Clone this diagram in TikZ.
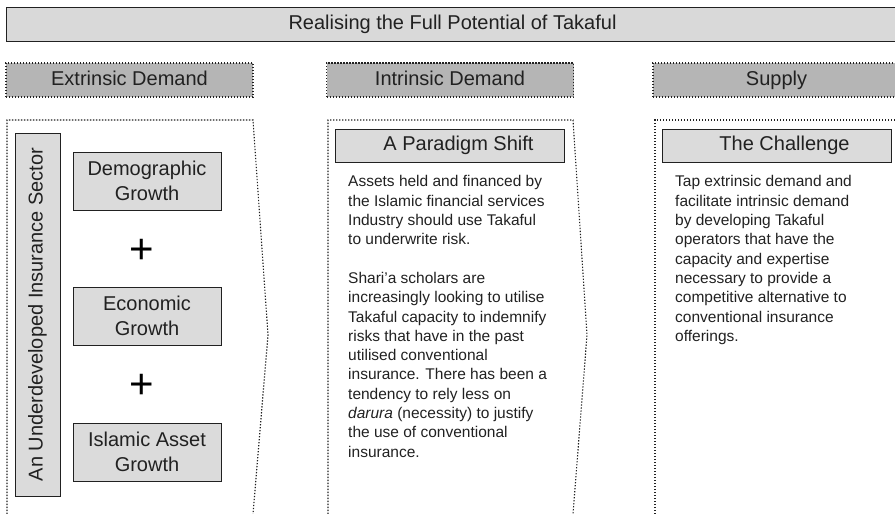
\documentclass[tikz,border=0pt]{standalone}
\usepackage{fontspec}
\setmainfont{Liberation Sans}
\usetikzlibrary{positioning}
\definecolor{barfill}{gray}{0.85}
\definecolor{headfill}{gray}{0.71}
\definecolor{boxfill}{gray}{0.86}
\definecolor{inkgray}{gray}{0.13}

\begin{document}
\begin{tikzpicture}[x=1pt, y=-1pt,
  bar/.style={draw=inkgray, line width=1pt, fill=barfill, minimum width=893pt,
              minimum height=34pt, inner sep=0pt, text=inkgray,
              text height=14.5pt, text depth=4pt,
              font=\fontsize{20}{24}\selectfont},
  head/.style={draw=inkgray, line width=1.1pt, dash pattern=on 1.3pt off 1.7pt,
               fill=headfill, minimum width=247pt, minimum height=34pt,
               inner sep=0pt, text=inkgray, text height=14.5pt, text depth=4pt,
               font=\fontsize{20}{24}\selectfont},
  panel/.style={draw=inkgray, line width=1.1pt, dash pattern=on 1.3pt off 1.7pt},
  factor/.style={draw=inkgray, line width=1pt, fill=boxfill, minimum width=148pt,
                 minimum height=58pt, inner sep=0pt, align=center, text=inkgray,
                 font=\fontsize{20}{25}\selectfont},
  plus/.style={inner sep=0pt, text=black, font=\fontsize{42}{42}\selectfont},
  capbox/.style={draw=inkgray, line width=1pt, fill=boxfill, minimum width=229pt,
                 minimum height=33pt, inner sep=0pt, text=inkgray,
                 text height=14.5pt, text depth=4pt,
                 font=\fontsize{20}{24}\selectfont},
  body/.style={anchor=north west, inner sep=0pt, align=left, text=inkgray,
               font=\fontsize{15.5}{19.3}\selectfont},
]
\useasboundingbox (0,0) rectangle (895,514);
% Title bar
\node[bar] (title) at (452.5,24) {Realising the Full Potential of Takaful};
% Column headers
\node[head] (extr) at (129.5,80) {Extrinsic Demand};
\node[head] (intr) at (450,80) {Intrinsic Demand};
\node[head] (supp) at (776.5,80) {Supply};
% Panels
\draw[panel] (7,514) -- (7,120) -- (253,120) -- (268,335) -- (253,514);
\draw[panel] (328,514) -- (328,120) -- (573,120) -- (587,335) -- (573,514);
\draw[panel] (655,514) -- (655,120) -- (900,120);
% Extrinsic demand
\node[factor, rotate=90, minimum width=363pt, minimum height=45pt]
  (sector) at (37.5,314.5) {An Underdeveloped Insurance Sector};
\node[factor] (demo) at (147,181) {Demographic\\Growth};
\node[plus] (plusa) at (142,251.5) {+};
\node[factor] (econ) at (147,316) {Economic\\Growth};
\node[plus] (plusb) at (142,386.5) {+};
\node[factor] (asset) at (147,452) {Islamic Asset\\Growth};
% Intrinsic demand
\node[capbox] (shift) at (449.5,145.5) {\hspace*{18pt}A Paradigm Shift};
\node[body] (shifttext) at (348,175.5) {
  Assets held and financed by\\
  the Islamic financial services\\
  Industry should use Takaful\\
  to underwrite risk.\\[19.3pt]
  Shari’a scholars are\\
  increasingly looking to utilise\\
  Takaful capacity to indemnify\\
  risks that have in the past\\
  utilised conventional\\
  insurance. There has been a\\
  tendency to rely less on\\
  \textit{darura} (necessity) to justify\\
  the use of conventional\\
  insurance.
};
% Supply
\node[capbox] (chall) at (776.5,145.5) {\hspace*{16pt}The Challenge};
\node[body] (challtext) at (675,175.5) {
  Tap extrinsic demand and\\
  facilitate intrinsic demand\\
  by developing Takaful\\
  operators that have the\\
  capacity and expertise\\
  necessary to provide a\\
  competitive alternative to\\
  conventional insurance\\
  offerings.
};
\end{tikzpicture}
\end{document}
